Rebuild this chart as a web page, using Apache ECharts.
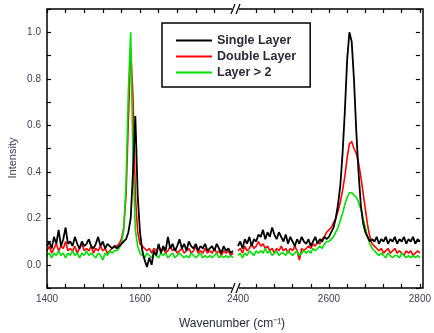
<!DOCTYPE html>
<html><head><meta charset="utf-8">
<script src="https://cdn.jsdelivr.net/npm/echarts@6/dist/echarts.min.js"></script>
<style>html,body{margin:0;padding:0;background:#fff}#c{width:434px;height:333px}</style>
</head><body><div id="c"></div>
<script>
// sampling grid (cm^-1)
const leftStart = 1400, rightStart = 2400, waveStep = 5;
const seriesNames = ['Single Layer', 'Double Layer', 'Layer > 2'];
const seriesColors = ['#000000', '#ff0000', '#00e000'];
const leftTickLabels = [1400, 1600];
const rightTickLabels = [2400, 2600, 2800];
const yTickLabels = [0, 0.2, 0.4, 0.6, 0.8, 1.0];

// 1400..1800 step 5
const singleLeft = [
0.08,0.10,0.07,0.12,0.09,0.15,0.08,0.11,0.16,0.09,
0.10,0.08,0.12,0.09,0.07,0.10,0.08,0.09,0.11,0.08,
0.07,0.09,0.12,0.08,0.10,0.07,0.09,0.08,0.07,0.08,
0.07,0.08,0.09,0.10,0.11,0.14,0.20,0.40,0.64,0.30,
0.14,0.06,0.02,-0.01,0.03,0.00,0.06,0.04,0.09,0.05,
0.08,0.06,0.12,0.07,0.09,0.06,0.08,0.11,0.07,0.09,
0.06,0.10,0.08,0.07,0.09,0.06,0.08,0.07,0.09,0.06,
0.07,0.08,0.06,0.09,0.07,0.05,0.08,0.06,0.07,0.05,
0.06];
const doubleLeft = [
0.06,0.08,0.05,0.07,0.09,0.06,0.08,0.07,0.10,0.06,
0.07,0.06,0.08,0.05,0.07,0.09,0.06,0.07,0.06,0.08,
0.05,0.07,0.06,0.08,0.06,0.07,0.05,0.06,0.07,0.08,
0.08,0.09,0.11,0.16,0.30,0.62,0.93,0.72,0.30,0.14,
0.09,0.08,0.07,0.06,0.07,0.05,0.07,0.06,0.08,0.06,
0.07,0.05,0.06,0.08,0.06,0.07,0.05,0.06,0.07,0.05,
0.06,0.07,0.05,0.06,0.08,0.05,0.06,0.05,0.07,0.05,
0.06,0.05,0.07,0.05,0.06,0.04,0.06,0.05,0.06,0.04,
0.05];
const multiLeft = [
0.04,0.05,0.03,0.05,0.04,0.06,0.04,0.05,0.03,0.05,
0.04,0.06,0.04,0.05,0.03,0.05,0.04,0.06,0.04,0.05,
0.04,0.03,0.05,0.04,0.02,0.05,0.04,0.06,0.05,0.06,
0.06,0.07,0.09,0.15,0.35,0.75,1.00,0.45,0.15,0.08,
0.05,0.04,0.03,0.05,0.04,0.03,0.05,0.04,0.03,0.05,
0.04,0.05,0.03,0.04,0.05,0.03,0.04,0.05,0.04,0.03,
0.04,0.03,0.05,0.04,0.03,0.04,0.05,0.03,0.04,0.03,
0.04,0.03,0.04,0.05,0.03,0.04,0.03,0.04,0.03,0.04,
0.03];
// 2400..2800 step 5
const singleRight = [
0.08,0.10,0.07,0.11,0.09,0.12,0.08,0.11,0.10,0.13,
0.12,0.15,0.11,0.14,0.12,0.16,0.13,0.11,0.14,0.12,
0.10,0.13,0.09,0.12,0.10,0.08,0.11,0.09,0.12,0.10,
0.09,0.11,0.08,0.10,0.12,0.09,0.11,0.10,0.12,0.11,
0.12,0.14,0.16,0.20,0.26,0.34,0.48,0.66,0.88,1.00,
0.96,0.80,0.58,0.40,0.26,0.18,0.14,0.12,0.10,0.11,
0.10,0.12,0.09,0.11,0.10,0.12,0.09,0.11,0.10,0.12,
0.09,0.11,0.10,0.12,0.09,0.11,0.10,0.12,0.09,0.11,
0.10];
const doubleRight = [
0.06,0.07,0.05,0.08,0.06,0.07,0.09,0.07,0.08,0.10,
0.08,0.09,0.07,0.08,0.06,0.07,0.05,0.07,0.06,0.08,
0.06,0.07,0.05,0.07,0.06,0.08,0.06,0.02,0.07,0.06,
0.07,0.08,0.07,0.09,0.08,0.10,0.09,0.11,0.12,0.14,
0.15,0.16,0.18,0.20,0.23,0.27,0.32,0.38,0.46,0.52,
0.53,0.50,0.48,0.44,0.38,0.31,0.24,0.17,0.12,0.09,
0.08,0.07,0.06,0.07,0.05,0.06,0.07,0.05,0.06,0.07,
0.05,0.06,0.05,0.04,0.06,0.05,0.06,0.04,0.05,0.06,
0.05];
const multiRight = [
0.04,0.05,0.03,0.05,0.04,0.06,0.05,0.04,0.06,0.05,
0.06,0.05,0.07,0.05,0.06,0.04,0.05,0.06,0.04,0.05,
0.05,0.04,0.06,0.05,0.04,0.05,0.06,0.04,0.05,0.06,
0.05,0.06,0.05,0.07,0.06,0.07,0.08,0.07,0.09,0.10,
0.10,0.11,0.12,0.14,0.16,0.19,0.22,0.26,0.29,0.31,
0.31,0.30,0.29,0.27,0.24,0.20,0.16,0.12,0.09,0.07,
0.06,0.05,0.04,0.05,0.04,0.03,0.05,0.04,0.03,0.04,
0.04,0.03,0.05,0.04,0.03,0.04,0.03,0.04,0.03,0.04,
0.03];

function pairs(start, vals){ return vals.map((v,i)=>[start + i*waveStep, v]); }

const chart = echarts.init(document.getElementById('c'), null, {renderer:'canvas'});
const labelStyle = {color:'#3a3f55', fontSize:10, fontFamily:'Arial, Liberation Sans, sans-serif'};
const tick = {show:true, inside:true, length:4, lineStyle:{color:'#000', width:1.2}};

function xAx(gridIndex, min, max, labels, pos){
  return {type:'value', gridIndex, min, max, interval:40, position:pos,
    axisLine:{show:false, onZero:false}, splitLine:{show:false}, axisTick:tick,
    axisLabel: pos==='bottom' ? Object.assign({margin:6, showMaxLabel:true, showMinLabel:true,
      formatter:v=> labels.indexOf(v)>=0 ? String(v) : ''}, labelStyle) : {show:false}};
}
function yAx(gridIndex, pos, showLabels){
  return {type:'value', gridIndex, min:-0.1, max:1.1, interval:0.1, position:pos,
    axisLine:{show:false, onZero:false}, splitLine:{show:false}, axisTick:tick,
    axisLabel: showLabels ? Object.assign({margin:6,
      formatter:v=>{ const r=Math.round(v*10)/10; return yTickLabels.some(t=>Math.abs(t-r)<1e-6) ? r.toFixed(1) : ''; }}, labelStyle) : {show:false}};
}
const lineW = [1.8, 1.6, 1.6];
const order = [1,2,0]; // draw red, green, then black
const series = [];
const leftData = [singleLeft, doubleLeft, multiLeft];
const rightData = [singleRight, doubleRight, multiRight];
order.forEach((k,zi)=>{
  series.push({name:seriesNames[k], type:'line', xAxisIndex:0, yAxisIndex:0, data:pairs(leftStart,leftData[k]),
    showSymbol:false, symbol:'none', lineStyle:{color:seriesColors[k], width:lineW[k]}, itemStyle:{color:seriesColors[k]}, z:2+zi, animation:false});
  series.push({name:seriesNames[k], type:'line', xAxisIndex:2, yAxisIndex:1, data:pairs(rightStart,rightData[k]),
    showSymbol:false, symbol:'none', lineStyle:{color:seriesColors[k], width:lineW[k]}, itemStyle:{color:seriesColors[k]}, z:2+zi, animation:false});
});

const L=47, T=9, R=423, B=288, BRK=233, R0=238;
chart.setOption({
  animation:false,
  grid:[
    {left:L, top:T, width:BRK-L, height:B-T},
    {left:R0, top:T, width:R-R0, height:B-T}
  ],
  xAxis:[
    xAx(0,1400,1800,leftTickLabels,'bottom'),
    xAx(0,1400,1800,leftTickLabels,'top'),
    xAx(1,2400,2800,rightTickLabels,'bottom'),
    xAx(1,2400,2800,rightTickLabels,'top')
  ],
  yAxis:[
    yAx(0,'left',true),
    yAx(1,'right',false)
  ],
  legend:{data:seriesNames, left:162, top:23, orient:'vertical', itemWidth:36, itemHeight:14, itemGap:3,
    padding:[11,14,8,14], borderColor:'#000', borderWidth:1.5, backgroundColor:'#fff',
    textStyle:{color:'#2a2a3a', fontSize:12.5, fontWeight:'bold', fontFamily:'Arial, Liberation Sans, sans-serif', padding:[0,0,0,0]},
    icon:'path://M0,6L36,6L36,8L0,8Z', selectedMode:false},
  series:series,
  graphic:[
    {type:'rect', shape:{x:L, y:T, width:R-L, height:B-T}, style:{fill:'none', stroke:'#000', lineWidth:1.5}, z:50},
    {type:'rect', shape:{x:BRK-1, y:T-6, width:7, height:12}, style:{fill:'#fff'}, z:51},
    {type:'line', shape:{x1:BRK-2, y1:T+5, x2:BRK+2, y2:T-5}, style:{stroke:'#000', lineWidth:1.2}, z:52},
    {type:'line', shape:{x1:BRK+3, y1:T+5, x2:BRK+7, y2:T-5}, style:{stroke:'#000', lineWidth:1.2}, z:52},
    {type:'rect', shape:{x:BRK-1, y:B-6, width:7, height:12}, style:{fill:'#fff'}, z:51},
    {type:'line', shape:{x1:BRK-2, y1:B+5, x2:BRK+2, y2:B-5}, style:{stroke:'#000', lineWidth:1.2}, z:52},
    {type:'line', shape:{x1:BRK+3, y1:B+5, x2:BRK+7, y2:B-5}, style:{stroke:'#000', lineWidth:1.2}, z:52},
    {type:'text', x:232, y:324, style:{text:'Wavenumber (cm\u207B\u00B9)', fill:'#2a2a3a', fontSize:12, fontFamily:'Arial, Liberation Sans, sans-serif', align:'center', verticalAlign:'middle'}, z:60},
    {type:'text', x:13, y:158, rotation:Math.PI/2, style:{text:'Intensity', fill:'#3a3f55', fontSize:11, fontFamily:'Arial, Liberation Sans, sans-serif', align:'center', verticalAlign:'middle'}, z:60}
  ]
});
</script></body></html>
